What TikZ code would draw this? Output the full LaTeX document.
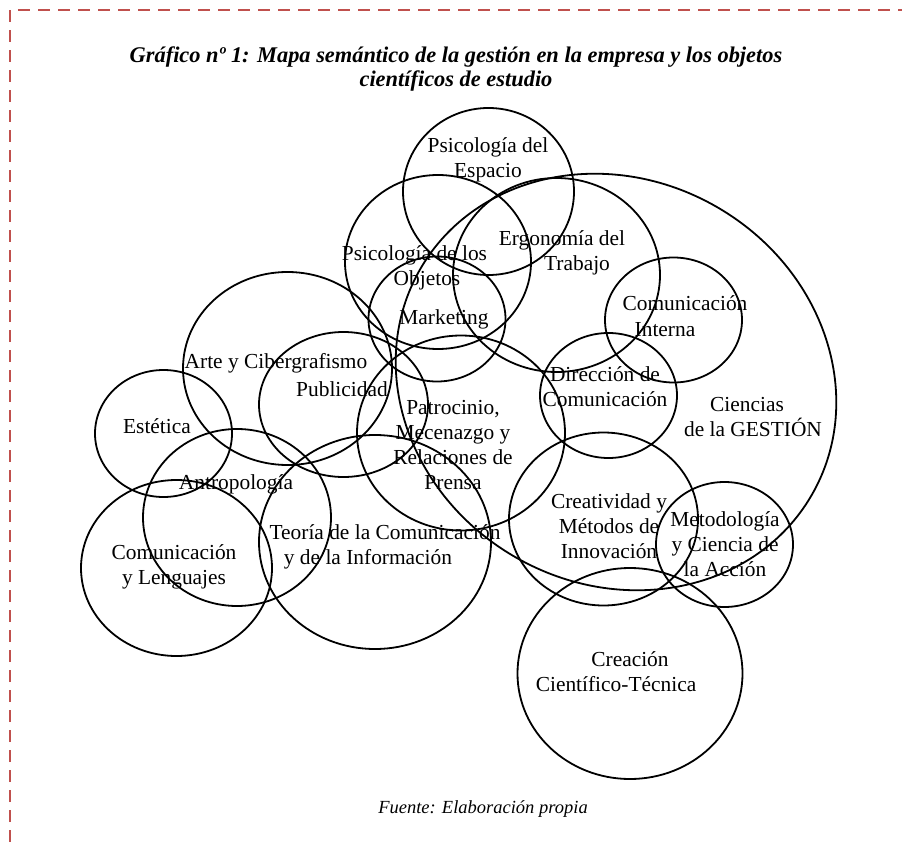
\documentclass[tikz,border=0pt]{standalone}
\usepackage{fontspec}
\setmainfont{Liberation Serif}
\definecolor{borderred}{RGB}{192,80,77}
% stacked, centred lines whose baseline is that of the first line
\newcommand{\stacklines}[1]{\begin{tabular}[t]{@{}c@{}}#1\end{tabular}}
\newcommand{\labelsize}{\fontsize{21.4}{25}\selectfont}
\begin{document}
\begin{tikzpicture}[x=1pt,y=-1pt,
  field/.style={draw=black, line width=1.8pt},
  lbl/.style={anchor=base, inner sep=0pt, font=\labelsize},
  frame/.style={draw=borderred, line width=1.8pt, dash pattern=on 12pt off 8pt}]
\useasboundingbox (0,0) rectangle (902,842);

% dashed frame (top and left sides)
\draw[frame] (10,842) -- (10,10) -- (902,10);

% title and source
\node[anchor=base, inner sep=0pt, font=\fontsize{22.4}{23.5}\selectfont\bfseries\itshape] (title) at (456,63)
  {\stacklines{Gráfico nº 1: Mapa semántico de la gestión en la empresa y los objetos\\científicos de estudio}};
\node[anchor=base, inner sep=0pt, font=\fontsize{18.5}{21}\selectfont\itshape] (source) at (483,813)
  {Fuente: Elaboración propia};

% fields of study
\draw[field] (488.5,191.5) ellipse [x radius=85.5, y radius=83.5];   % Psicología del Espacio
\draw[field] (438,262)     ellipse [x radius=93,   y radius=87];     % Psicología de los Objetos
\draw[field] (437,319)     ellipse [x radius=68.5, y radius=62.5];   % Marketing
\draw[field] (556.5,275)   ellipse [x radius=103.5,y radius=97];     % Ergonomía del Trabajo
\draw[field] (673.5,320)   ellipse [x radius=68.5, y radius=62.5];   % Comunicación Interna
\draw[field] (608.5,395.5) ellipse [x radius=68.5, y radius=62.5];   % Dirección de Comunicación
\draw[field, rotate around={-30:(616,382)}] (616,382) ellipse [x radius=226, y radius=202]; % Ciencias de la Gestión
\draw[field] (461,433)     ellipse [x radius=104,  y radius=97.5];   % Patrocinio
\draw[field] (287.5,368.5) ellipse [x radius=104.5,y radius=96.5];   % Arte y Cibergrafismo
\draw[field] (343.5,404.5) ellipse [x radius=84.5, y radius=72.5];   % Publicidad
\draw[field] (163.5,433.5) ellipse [x radius=68.5, y radius=63.5];   % Estética
\draw[field] (237,517.5)   ellipse [x radius=94,   y radius=88.5];   % Antropología
\draw[field] (176.5,568)   ellipse [x radius=95.5, y radius=88];     % Comunicación y Lenguajes
\draw[field] (375,542)     ellipse [x radius=116,  y radius=107];    % Teoría de la Comunicación
\draw[field] (603.5,519)   ellipse [x radius=94.5, y radius=86.5];   % Creatividad
\draw[field] (724.5,544.5) ellipse [x radius=68.5, y radius=62.5];   % Metodología
\draw[field] (630,673.5)   ellipse [x radius=112.5,y radius=105.5];  % Creación Científico-Técnica

% labels
\node[lbl] (espacio)     at (488,153) {\stacklines{Psicología del\\Espacio}};
\node[lbl] (objetos)     at (414.5,261) {\stacklines{Psicología de los\\\hspace*{25pt}Objetos}};
\node[lbl] (marketing)   at (444,324) {Marketing};
\node[lbl] (ergonomia)   at (562,246) {\stacklines{Ergonomía del\\\hspace*{30pt}Trabajo}};
\node[lbl] (interna)     at (685,311) {\stacklines{Comunicación\\Interna\hspace*{40pt}}};
\node[lbl] (direccion)   at (605,381) {\stacklines{Dirección de\\Comunicación}};
\node[lbl] (gestion)     at (753,411) {\stacklines{Ciencias\hspace*{12pt}\\de la GESTIÓN}};
\node[lbl] (patrocinio)  at (453,414) {\stacklines{Patrocinio,\\Mecenazgo y\\Relaciones de\\Prensa}};
\node[lbl] (arte)        at (276,368) {Arte y Cibergrafismo};
\node[lbl] (publicidad)  at (342,396) {Publicidad};
\node[lbl] (estetica)    at (157,433) {Estética};
\node[lbl] (antropologia) at (236,489) {Antropología};
\node[lbl] (lenguajes)   at (174,559) {\stacklines{Comunicación\\y Lenguajes}};
\node[lbl] (teoria)      at (385,539) {\stacklines{Teoría de la Comunicación\\y de la Información\hspace*{34pt}}};
\node[lbl] (creatividad) at (609,508) {\stacklines{Creatividad y\\Métodos de\\Innovación}};
\node[lbl] (metodologia) at (725,526) {\stacklines{Metodología\\y Ciencia de\\la Acción}};
\node[lbl] (creacion)    at (616,666) {\stacklines{\hspace*{28pt}Creación\\Científico-Técnica}};
\end{tikzpicture}
\end{document}
